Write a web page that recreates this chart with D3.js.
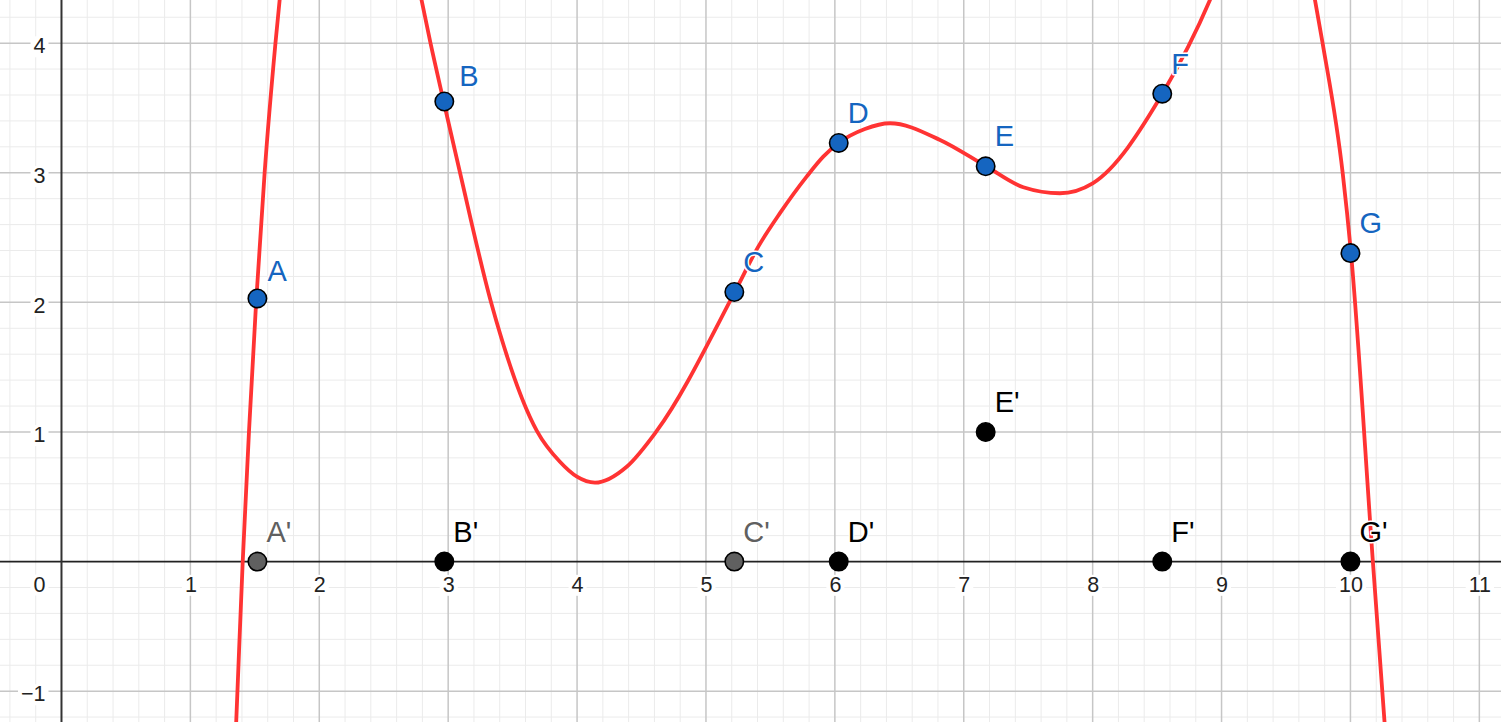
<!DOCTYPE html>
<html>
<head>
<meta charset="utf-8">
<script src="https://cdn.jsdelivr.net/npm/d3@7"></script>
<style>
  html, body { margin: 0; padding: 0; background: #fff; }
  svg { display: block; }
</style>
</head>
<body>
<svg id="chart" width="1501" height="722"></svg>
<script>
// ---------- data ----------
const pointNames = ["A", "B", "C", "D", "E", "F", "G"];
const pointX = [1.52, 2.97, 5.22, 6.03, 7.17, 8.54, 10.0];
const pointY = [2.03, 3.55, 2.08, 3.23, 3.05, 3.61, 2.38];

const primeNames = ["A'", "B'", "C'", "D'", "E'", "F'", "G'"];
const primeX = [1.52, 2.97, 5.22, 6.03, 7.17, 8.54, 10.0];
const primeY = [0, 0, 0, 0, 1, 0, 0];

// red curve (three visible branches)
const curveLeft = [[1.353, -1.30], [1.365, -1.004], [1.406, 0], [1.455, 1.01], [1.510, 2.0],
  [1.576, 3.0], [1.660, 4.0], [1.704, 4.45]];
const curveMiddle = [[2.769, 4.45], [2.863, 4.0], [2.964, 3.554], [3.092, 3.0], [3.332, 2.003],
  [3.689, 1.007], [3.867, 0.770], [3.999, 0.655], [4.139, 0.609], [4.385, 0.732],
  [4.618, 1.008], [5.225, 2.083], [5.406, 2.430], [5.574, 2.688], [5.781, 2.970],
  [5.910, 3.124], [6.032, 3.232], [6.233, 3.338], [6.428, 3.382], [6.816, 3.253],
  [7.170, 3.052], [7.462, 2.888], [7.746, 2.842], [8.000, 2.919], [8.543, 3.613],
  [8.910, 4.333], [8.959, 4.45]];
const curveRight = [[9.704, 4.45], [9.784, 4.0], [9.940, 2.996], [10.004, 2.383],
  [10.174, 0], [10.269, -1.30]];

const xTickValues = [1, 2, 3, 4, 5, 6, 7, 8, 9, 10, 11];
const yTickValues = [-1, 1, 2, 3, 4];

// ---------- styles ----------
const W = 1501, H = 722;
const xDomain = [-0.477, 11.168];
const yDomain = [-1.238, 4.333];
const blue = "#1565c0";
const red = "#ff3333";
const grayPrimes = new Set(["A'", "C'"]);
const labelOffset = { "A": [10, -17], "B": [15, -15] };
const defaultOffset = [9, -20];
const fontFamily = "'Liberation Sans', Arial, Helvetica, sans-serif";

const svg = d3.select("#chart");
svg.append("rect").attr("width", W).attr("height", H).attr("fill", "#fff");

const x = d3.scaleLinear().domain(xDomain).range([0, W]);
const y = d3.scaleLinear().domain(yDomain).range([H, 0]);

// ---------- grid ----------
const minorX = d3.range(Math.ceil(xDomain[0] * 5), Math.floor(xDomain[1] * 5) + 1).filter(i => i % 5 !== 0).map(i => i / 5);
const minorY = d3.range(Math.ceil(yDomain[0] * 5), Math.floor(yDomain[1] * 5) + 1).filter(i => i % 5 !== 0).map(i => i / 5);
const majorX = d3.range(Math.ceil(xDomain[0]), Math.floor(xDomain[1]) + 1).filter(v => v !== 0);
const majorY = d3.range(Math.ceil(yDomain[0]), Math.floor(yDomain[1]) + 1).filter(v => v !== 0);

const grid = svg.append("g");
grid.selectAll(".mx").data(minorX).join("line")
  .attr("x1", d => x(d)).attr("x2", d => x(d)).attr("y1", 0).attr("y2", H)
  .attr("stroke", "#ebebeb").attr("stroke-width", 1);
grid.selectAll(".my").data(minorY).join("line")
  .attr("y1", d => y(d)).attr("y2", d => y(d)).attr("x1", 0).attr("x2", W)
  .attr("stroke", "#ebebeb").attr("stroke-width", 1);
grid.selectAll(".Mx").data(majorX).join("line")
  .attr("x1", d => x(d)).attr("x2", d => x(d)).attr("y1", 0).attr("y2", H)
  .attr("stroke", "#c6c6c6").attr("stroke-width", 1.5);
grid.selectAll(".My").data(majorY).join("line")
  .attr("y1", d => y(d)).attr("y2", d => y(d)).attr("x1", 0).attr("x2", W)
  .attr("stroke", "#c6c6c6").attr("stroke-width", 1.5);

// ---------- tick labels (with white backgrounds) ----------
const tickFont = 21.5;
const xAxisG = svg.append("g").attr("transform", `translate(0,${y(0)})`)
  .call(d3.axisBottom(x).tickValues(xTickValues).tickSize(0).tickPadding(15).tickFormat(d3.format("d")));
const yAxisG = svg.append("g").attr("transform", `translate(${x(0)},0)`)
  .call(d3.axisLeft(y).tickValues(yTickValues).tickSize(0).tickPadding(16)
    .tickFormat(d => d < 0 ? "\u2212" + Math.abs(d) : String(d)));
[xAxisG, yAxisG].forEach(g => {
  g.select(".domain").remove();
  g.selectAll("text").attr("font-family", fontFamily).attr("font-size", tickFont).attr("fill", "#222");
});
yAxisG.selectAll("text").attr("dy", "0.45em");
// origin label
yAxisG.append("g").attr("class", "tick").attr("transform", `translate(0,${y(0)})`)
  .append("text").attr("x", -16).attr("y", 30).attr("text-anchor", "end")
  .attr("font-family", fontFamily).attr("font-size", tickFont).attr("fill", "#222").text("0");

[xAxisG, yAxisG].forEach(g => {
  g.selectAll(".tick").each(function () {
    const t = d3.select(this).select("text");
    const bb = t.node().getBBox();
    d3.select(this).insert("rect", "text")
      .attr("x", bb.x - 3).attr("y", bb.y + 2).attr("width", bb.width + 6).attr("height", bb.height - 3)
      .attr("fill", "#fff");
  });
});

// ---------- axes lines ----------
svg.append("line").attr("x1", 0).attr("x2", W).attr("y1", y(0)).attr("y2", y(0))
  .attr("stroke", "#222").attr("stroke-width", 1.7);
svg.append("line").attr("x1", x(0)).attr("x2", x(0)).attr("y1", 0).attr("y2", H)
  .attr("stroke", "#333").attr("stroke-width", 2);

// ---------- curve ----------
const line = d3.line().x(d => x(d[0])).y(d => y(d[1])).curve(d3.curveMonotoneX);
svg.append("g").selectAll("path").data([curveLeft, curveMiddle, curveRight]).join("path")
  .attr("d", line).attr("fill", "none").attr("stroke", red).attr("stroke-width", 3.8)
  .attr("stroke-linejoin", "round");

// ---------- points ----------
const pts = pointNames.map((n, i) => ({ name: n, x: pointX[i], y: pointY[i], fill: blue, text: blue }));
const primes = primeNames.map((n, i) => ({
  name: n, x: primeX[i], y: primeY[i],
  fill: grayPrimes.has(n) ? "#606060" : "#000",
  text: grayPrimes.has(n) ? "#606060" : "#000"
}));
const all = primes.concat(pts);

svg.append("g").selectAll("circle").data(all).join("circle")
  .attr("cx", d => x(d.x)).attr("cy", d => y(d.y)).attr("r", 9.2)
  .attr("fill", d => d.fill).attr("stroke", "#000").attr("stroke-width", 1.6);

svg.append("g").selectAll("text").data(all).join("text")
  .attr("x", d => x(d.x) + (labelOffset[d.name] || defaultOffset)[0])
  .attr("y", d => y(d.y) + (labelOffset[d.name] || defaultOffset)[1])
  .attr("font-family", fontFamily).attr("font-size", 29)
  .attr("fill", d => d.text)
  .attr("stroke", "#fff").attr("stroke-width", 3).attr("paint-order", "stroke")
  .attr("stroke-linejoin", "round")
  .text(d => d.name);
</script>
</body>
</html>
